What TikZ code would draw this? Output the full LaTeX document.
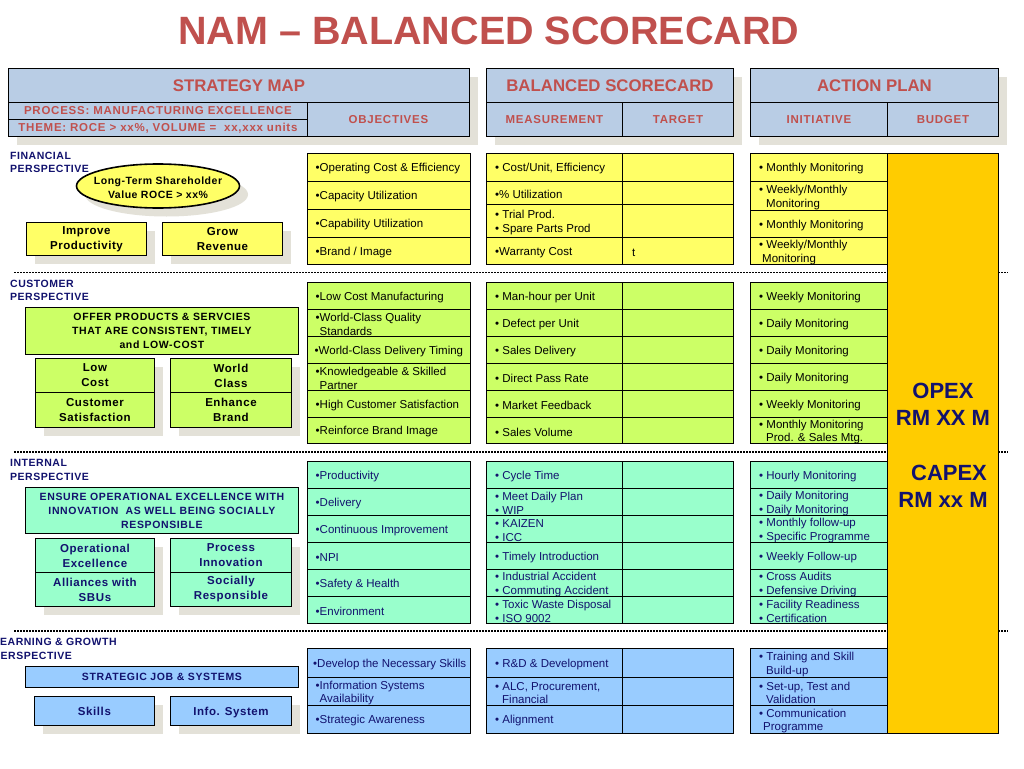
\documentclass[tikz,border=0pt]{standalone}
\usepackage{fontspec}
\setmainfont{Liberation Sans}
\usetikzlibrary{shapes.geometric,shadows}
\definecolor{hdr}{HTML}{B9CDE5}
\definecolor{hdrtxt}{HTML}{C0504D}
\definecolor{fyel}{HTML}{FFFF66}
\definecolor{cgrn}{HTML}{CCFF66}
\definecolor{imint}{HTML}{99FFCC}
\definecolor{lblue}{HTML}{99CCFF}
\definecolor{budget}{HTML}{FFCC00}
\definecolor{shgray}{HTML}{E3E1D8}
\definecolor{navy}{HTML}{12126E}
\newcommand\fs[2]{\fontsize{#1}{#2}\selectfont}
\newcommand\lsp[1]{\addfontfeature{LetterSpace=#1}}
\newcommand\cell[7]{\node[cellbox,minimum width=#4pt,minimum height=#5pt] (#1) at (#2,#3) {};
  \node[celltxt] (#1t) at ([xshift=#6pt,yshift=-1.5pt]#1.west) {#7};}
\newcommand\ecell[5]{\node[cellbox,minimum width=#4pt,minimum height=#5pt] (#1) at (#2,#3) {};}
\begin{document}
\begin{tikzpicture}[x=1pt,y=-1pt,
  hcell/.style={draw=black,line width=0.9pt,fill=hdr,inner sep=0pt,anchor=north west,text=hdrtxt},
  htitle/.style={font={\fs{16.8}{20}\bfseries}},
  hsub/.style={font={\fs{11.5}{13}\bfseries\lsp{6.5}}},
  cellbox/.style={draw=black,line width=1pt,inner sep=0pt,anchor=north west},
  celltxt/.style={anchor=west,align=left,inner sep=0pt,font={\fs{11.5}{13.5}}},
  plabel/.style={anchor=west,align=left,inner sep=0pt,text=navy,font={\fs{10.5}{13.5}\bfseries\lsp{5}}},
  sbox/.style={draw=black,line width=0.9pt,inner sep=0pt,anchor=north west,align=center,font={\fs{11.5}{15}\bfseries\lsp{5}}},
  bigbox/.style={draw=black,line width=0.9pt,inner sep=0pt,anchor=north west,align=center,font={\fs{10.5}{14}\bfseries\lsp{6}}},
  shad/.style={drop shadow={shadow xshift=8.5pt,shadow yshift=-8.5pt,fill=shgray,opacity=1}},
  sep/.style={line width=1.5pt,dash pattern=on 1.5pt off 1.5pt},
  bignum/.style={inner sep=0pt,align=center,text=navy,font={\fs{22}{27}\bfseries}}]
\useasboundingbox (0,0) rectangle (1024,768);
\clip (0,0) rectangle (1024,768);
\fill[white] (0,0) rectangle (1024,768);

% title
\node[anchor=base,inner sep=0pt,text=hdrtxt,font={\fs{39.5}{44}\bfseries}] (title) at (489,45) {NAM – BALANCED SCORECARD};

% header shadows
\fill[shgray] (17,77) rectangle (478,145);
\fill[shgray] (495,77) rectangle (742,145);
\fill[shgray] (759,77) rectangle (1007,145);

% headers
\node[hcell,htitle,minimum width=461pt,minimum height=34pt] (smh) at (8,68) {STRATEGY MAP};
\node[hcell,hsub,minimum width=299pt,minimum height=17pt] (proc) at (8,102) {PROCESS: MANUFACTURING EXCELLENCE};
\node[hcell,hsub,minimum width=299pt,minimum height=17pt] (theme) at (8,119) {THEME: ROCE > xx\%, VOLUME =\ \ xx,xxx units};
\node[hcell,hsub,minimum width=162pt,minimum height=34pt] (objh) at (307,102) {OBJECTIVES};

\node[hcell,htitle,minimum width=247pt,minimum height=34pt] (bsh) at (486,68) {BALANCED SCORECARD};
\node[hcell,hsub,minimum width=136pt,minimum height=34pt] (meash) at (486,102) {MEASUREMENT};
\node[hcell,hsub,minimum width=111pt,minimum height=34pt] (targh) at (622,102) {TARGET};

\node[hcell,htitle,minimum width=248pt,minimum height=34pt] (aph) at (750,68) {ACTION PLAN};
\node[hcell,hsub,minimum width=137pt,minimum height=34pt] (inith) at (750,102) {INITIATIVE};
\node[hcell,hsub,minimum width=111pt,minimum height=34pt] (budh) at (887,102) {BUDGET};

% perspective labels
\node[plabel] (lfin) at (10,162.5) {FINANCIAL\\PERSPECTIVE};
\node[plabel] (lcus) at (10,290.5) {CUSTOMER\\PERSPECTIVE};
\node[plabel] (lint) at (10,470) {INTERNAL\\PERSPECTIVE};
\node[plabel] (llea) at (-7,649) {LEARNING \& GROWTH\\PERSPECTIVE};

% separators
\draw[sep] (14,272.5) -- (1008,272.5);
\draw[sep] (14,452) -- (1008,452);
\draw[sep] (14,631) -- (1008,631);

% ===== financial =====
\node[ellipse,draw=black,line width=1.6pt,fill=fyel,minimum width=163pt,minimum height=44pt,inner sep=0pt,shad] (ell) at (158,186) {};
\node[inner sep=0pt,align=center,font={\fs{10.5}{14}\bfseries\lsp{5}}] (ellt) at (158,188) {Long-Term Shareholder\\Value ROCE > xx\%};
\node[sbox,shad,fill=fyel,minimum width=120pt,minimum height=33pt] (imp) at (26,222) {Improve\\Productivity};
\node[sbox,shad,fill=fyel,minimum width=120pt,minimum height=33pt] (grow) at (162,222) {Grow\\Revenue};

\begin{scope}[cellbox/.append style={fill=fyel}]
\cell{fo1}{307}{153}{163}{28}{8.5}{•Operating Cost \& Efficiency}
\cell{fo2}{307}{181}{163}{28}{8.5}{•Capacity Utilization}
\cell{fo3}{307}{209}{163}{28}{8.5}{•Capability Utilization}
\cell{fo4}{307}{237}{163}{27}{8.5}{•Brand / Image}
\cell{fm1}{486}{153}{136}{28}{9}{• Cost/Unit, Efficiency}
\cell{fm2}{486}{181}{136}{23}{9}{•\% Utilization}
\cell{fm3}{486}{204}{136}{33}{9}{• Trial Prod.\\• Spare Parts Prod}
\cell{fm4}{486}{237}{136}{27}{9}{•Warranty Cost}
\ecell{ft1}{622}{153}{111}{28}
\ecell{ft2}{622}{181}{111}{23}
\ecell{ft3}{622}{204}{111}{33}
\cell{ft4}{622}{237}{111}{27}{10}{t}
\cell{fi1}{750}{153}{137}{28}{9}{• Monthly Monitoring}
\cell{fi2}{750}{181}{137}{29}{9}{• Weekly/Monthly\\\hspace*{7pt}Monitoring}
\cell{fi3}{750}{210}{137}{27}{9}{• Monthly Monitoring}
\cell{fi4}{750}{237}{137}{27}{9}{• Weekly/Monthly\\\hspace*{3pt}Monitoring}
\end{scope}

% ===== customer =====
\node[bigbox,fill=cgrn,minimum width=273pt,minimum height=47pt] (offer) at (25,307) {OFFER PRODUCTS \& SERVCIES\\THAT ARE CONSISTENT, TIMELY\\and LOW-COST};
\node[sbox,shad,fill=cgrn,minimum width=119pt,minimum height=34pt] (lowc) at (35,358) {Low\\Cost};
\node[sbox,shad,fill=cgrn,minimum width=119pt,minimum height=35pt] (csat) at (35,392) {Customer\\Satisfaction};
\node[sbox,shad,fill=cgrn,minimum width=121pt,minimum height=34pt] (wcls) at (170,358) {World\\Class};
\node[sbox,shad,fill=cgrn,minimum width=121pt,minimum height=35pt] (ebr) at (170,392) {Enhance\\Brand};

\begin{scope}[cellbox/.append style={fill=cgrn}]
\cell{co1}{307}{282}{163}{27}{8.5}{•Low Cost Manufacturing}
\cell{co2}{307}{309}{163}{27}{8.5}{•World-Class Quality\\\hspace*{4pt}Standards}
\cell{co3}{307}{336}{163}{27}{7.5}{•World-Class Delivery Timing}
\cell{co4}{307}{363}{163}{27}{8.5}{•Knowledgeable \& Skilled\\\hspace*{4pt}Partner}
\cell{co5}{307}{390}{163}{27}{8.5}{•High Customer Satisfaction}
\cell{co6}{307}{417}{163}{26}{8.5}{•Reinforce Brand Image}
\cell{cm1}{486}{282}{136}{27}{9}{• Man-hour per Unit}
\cell{cm2}{486}{309}{136}{27}{9}{• Defect per Unit}
\cell{cm3}{486}{336}{136}{27}{9}{• Sales Delivery}
\cell{cm4}{486}{363}{136}{27}{9}{• Direct Pass Rate}
\cell{cm5}{486}{390}{136}{27}{9}{• Market Feedback}
\cell{cm6}{486}{417}{136}{26}{9}{• Sales Volume}
\ecell{ct1}{622}{282}{111}{27}
\ecell{ct2}{622}{309}{111}{27}
\ecell{ct3}{622}{336}{111}{27}
\ecell{ct4}{622}{363}{111}{27}
\ecell{ct5}{622}{390}{111}{27}
\ecell{ct6}{622}{417}{111}{26}
\cell{ci1}{750}{282}{137}{27}{9}{• Weekly Monitoring}
\cell{ci2}{750}{309}{137}{27}{9}{• Daily Monitoring}
\cell{ci3}{750}{336}{137}{27}{9}{• Daily Monitoring}
\cell{ci4}{750}{363}{137}{27}{9}{• Daily Monitoring}
\cell{ci5}{750}{390}{137}{27}{9}{• Weekly Monitoring}
\cell{ci6}{750}{417}{137}{26}{9}{• Monthly Monitoring\\\hspace*{7pt}Prod. \& Sales Mtg.}
\end{scope}

% ===== internal =====
\begin{scope}[sbox/.append style={text=navy},bigbox/.append style={text=navy},celltxt/.append style={text=navy},cellbox/.append style={fill=imint}]
\node[bigbox,fill=imint,minimum width=273pt,minimum height=46pt] (ensure) at (25,487) {ENSURE OPERATIONAL EXCELLENCE WITH\\INNOVATION\ \ AS WELL BEING SOCIALLY\\RESPONSIBLE};
\node[sbox,shad,fill=imint,minimum width=119pt,minimum height=34pt] (opex) at (35,538) {Operational\\Excellence};
\node[sbox,shad,fill=imint,minimum width=119pt,minimum height=34pt] (alli) at (35,572) {Alliances with\\SBUs};
\node[sbox,shad,fill=imint,minimum width=121pt,minimum height=34pt] (pinn) at (170,538) {Process\\Innovation};
\node[sbox,shad,fill=imint,minimum width=121pt,minimum height=34pt] (socr) at (170,572) {Socially\\Responsible};

\cell{io1}{307}{461}{163}{27}{8.5}{•Productivity}
\cell{io2}{307}{488}{163}{27}{8.5}{•Delivery}
\cell{io3}{307}{515}{163}{27}{8.5}{•Continuous Improvement}
\cell{io4}{307}{542}{163}{27}{8.5}{•NPI}
\cell{io5}{307}{569}{163}{27}{8.5}{•Safety \& Health}
\cell{io6}{307}{596}{163}{27}{8.5}{•Environment}
\cell{im1}{486}{461}{136}{27}{9}{• Cycle Time}
\cell{im2}{486}{488}{136}{27}{9}{• Meet Daily Plan\\• WIP}
\cell{im3}{486}{515}{136}{27}{9}{• KAIZEN\\• ICC}
\cell{im4}{486}{542}{136}{27}{9}{• Timely Introduction}
\cell{im5}{486}{569}{136}{27}{9}{• Industrial Accident\\• Commuting Accident}
\cell{im6}{486}{596}{136}{27}{9}{• Toxic Waste Disposal\\• ISO 9002}
\ecell{it1}{622}{461}{111}{27}
\ecell{it2}{622}{488}{111}{27}
\ecell{it3}{622}{515}{111}{27}
\ecell{it4}{622}{542}{111}{27}
\ecell{it5}{622}{569}{111}{27}
\ecell{it6}{622}{596}{111}{27}
\cell{ii1}{750}{461}{137}{27}{9}{• Hourly Monitoring}
\cell{ii2}{750}{488}{137}{27}{9}{• Daily Monitoring\\• Daily Monitoring}
\cell{ii3}{750}{515}{137}{27}{9}{• Monthly follow-up\\• Specific Programme}
\cell{ii4}{750}{542}{137}{27}{9}{• Weekly Follow-up}
\cell{ii5}{750}{569}{137}{27}{9}{• Cross Audits\\• Defensive Driving}
\cell{ii6}{750}{596}{137}{27}{9}{• Facility Readiness\\• Certification}
\end{scope}

% ===== learning & growth =====
\begin{scope}[sbox/.append style={text=navy},bigbox/.append style={text=navy},celltxt/.append style={text=navy},cellbox/.append style={fill=lblue}]
\node[bigbox,fill=lblue,minimum width=273pt,minimum height=21pt] (sjs) at (25,666) {STRATEGIC JOB \& SYSTEMS};
\node[sbox,shad,fill=lblue,minimum width=120pt,minimum height=29pt,text depth=0pt] (skil) at (34,696) {Skills};
\node[sbox,shad,fill=lblue,minimum width=121pt,minimum height=29pt,text depth=0pt] (infs) at (170,696) {Info. System};

\cell{lo1}{307}{648}{163}{29}{6}{•Develop the Necessary Skills}
\cell{lo2}{307}{677}{163}{28}{8.5}{•Information Systems\\\hspace*{4pt}Availability}
\cell{lo3}{307}{705}{163}{28}{8.5}{•Strategic Awareness}
\cell{lm1}{486}{648}{136}{29}{9}{• R\&D \& Development}
\cell{lm2}{486}{677}{136}{28}{9}{• ALC, Procurement,\\\hspace*{7pt}Financial}
\cell{lm3}{486}{705}{136}{28}{9}{• Alignment}
\ecell{lt1}{622}{648}{111}{29}
\ecell{lt2}{622}{677}{111}{28}
\ecell{lt3}{622}{705}{111}{28}
\cell{li1}{750}{648}{137}{29}{9}{• Training and Skill\\\hspace*{7pt}Build-up}
\cell{li2}{750}{677}{137}{28}{9}{• Set-up, Test and\\\hspace*{7pt}Validation}
\cell{li3}{750}{705}{137}{28}{9}{• Communication\\\hspace*{4pt}Programme}
\end{scope}

% ===== budget column =====
\node[draw=black,line width=1pt,fill=budget,minimum width=111pt,minimum height=580pt,inner sep=0pt,anchor=north west] (bud) at (887,153) {};
\node[bignum] (opexv) at (943,404) {OPEX\\RM XX M};
\node[bignum] (capexv) at (943,486) {\hspace*{12pt}CAPEX\\RM xx M};
\end{tikzpicture}
\end{document}
